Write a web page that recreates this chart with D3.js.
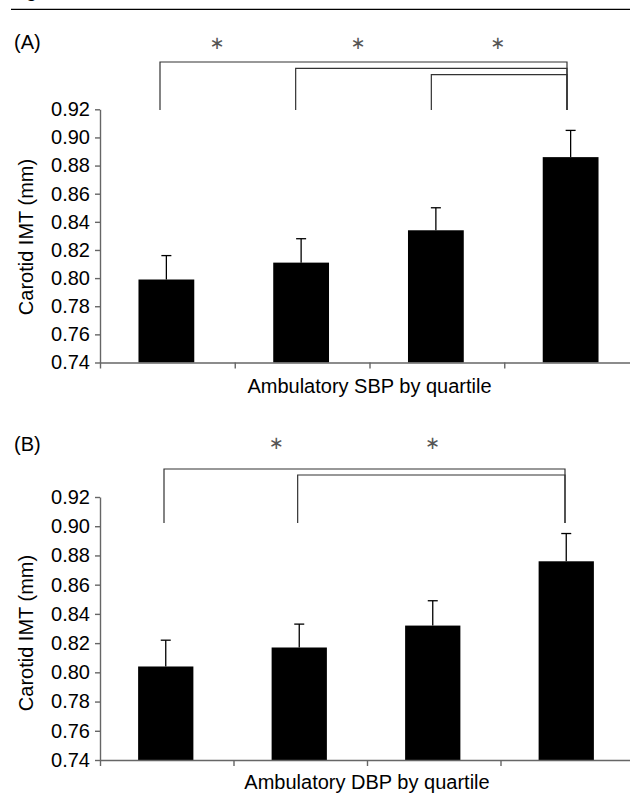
<!DOCTYPE html>
<html>
<head>
<meta charset="utf-8">
<script src="https://cdn.jsdelivr.net/npm/d3@7"></script>
<style>
  body { margin: 0; background: #fff; }
  svg { display: block; font-family: "Liberation Sans", Arial, Helvetica, sans-serif; }
  .axis path, .axis line { stroke: #666; stroke-width: 1.4; }
  .axis text { fill: #000; font-size: 20px; font-family: "Liberation Sans", Arial, sans-serif; }
</style>
</head>
<body>
<div id="chart"></div>
<script>

// quartile categories (shared by both panels)
var quartiles = ["Q1", "Q2", "Q3", "Q4"];
var yTicks = [0.74, 0.76, 0.78, 0.80, 0.82, 0.84, 0.86, 0.88, 0.90, 0.92];

// (A) ambulatory SBP: mean carotid IMT and upper end of error bar
var sbpMeans = [0.799, 0.811, 0.834, 0.886];
var sbpUpper = [0.816, 0.828, 0.850, 0.905];
var sbpPairs = [[0, 3], [1, 3], [2, 3]];
var sbpStars = [0.42, 1.46, 2.49];

// (B) ambulatory DBP
var dbpMeans = [0.804, 0.817, 0.832, 0.876];
var dbpUpper = [0.822, 0.833, 0.849, 0.895];
var dbpPairs = [[0, 3], [1, 3]];
var dbpStars = [0.84, 2.01];

var svg = d3.select("#chart").append("svg")
    .attr("width", 630)
    .attr("height", 793);

// top rule + figure caption running off the top edge
svg.append("text")
    .attr("x", 9).attr("y", -3)
    .style("font-size", "20px")
    .text("Fig. 2");
svg.append("line")
    .attr("x1", 11).attr("x2", 630)
    .attr("y1", 9.3).attr("y2", 9.3)
    .attr("stroke", "#000").attr("stroke-width", 1.3);

/*
 * one bar panel with error bars and significance brackets
 */
function drawPanel(p) {
    var x = d3.scaleLinear().domain([0, 4]).range(p.xRange);
    var bandW = x(1) - x(0);
    var center = function(i) { return x(i + 0.5); };

    var y = d3.scaleLinear().domain([0.74, 0.92]).range(p.yRange);

    // bracket / asterisk positions, slightly left of bar centres
    var ann = d3.scaleLinear().domain([0, 3]).range(p.annRange);

    var g = svg.append("g");

    // bars
    g.selectAll(".bar")
        .data(p.means)
        .enter().append("rect")
        .attr("x", function(d, i) { return center(i) - bandW * 0.207 - 1; })
        .attr("width", bandW * 0.414)
        .attr("y", function(d) { return y(d); })
        .attr("height", function(d) { return y(0.74) - y(d); })
        .attr("fill", "#000");

    // error bars
    var err = g.selectAll(".err")
        .data(p.upper)
        .enter().append("g");
    err.append("line")
        .attr("x1", function(d, i) { return center(i) - 1; })
        .attr("x2", function(d, i) { return center(i) - 1; })
        .attr("y1", function(d, i) { return y(p.means[i]); })
        .attr("y2", function(d) { return y(d); })
        .attr("stroke", "#000").attr("stroke-width", 1.3);
    err.append("line")
        .attr("x1", function(d, i) { return center(i) - 6; })
        .attr("x2", function(d, i) { return center(i) + 4; })
        .attr("y1", function(d) { return y(d); })
        .attr("y2", function(d) { return y(d); })
        .attr("stroke", "#000").attr("stroke-width", 1.3);

    // axes
    g.append("g")
        .attr("class", "axis")
        .attr("transform", "translate(" + p.xRange[0] + ",0)")
        .call(d3.axisLeft(y).tickValues(yTicks).tickSize(5).tickSizeOuter(0).tickPadding(5)
            .tickFormat(d3.format(".2f")));

    g.append("g")
        .attr("class", "axis")
        .attr("transform", "translate(0," + y(0.74) + ")")
        .call(d3.axisBottom(x).tickValues([0, 1, 2, 3, 4]).tickSize(6).tickSizeOuter(0)
            .tickFormat(""));

    // significance brackets
    g.selectAll(".bracket")
        .data(p.pairs)
        .enter().append("path")
        .attr("fill", "none")
        .attr("stroke", "#333")
        .attr("stroke-width", 1.2)
        .attr("d", function(d, i) {
            var top = p.bracketY[i];
            return "M" + ann(d[0]) + "," + p.bracketBottom +
                "V" + top + "H" + ann(d[1]) + "V" + p.bracketBottom;
        });

    g.selectAll(".star")
        .data(p.stars)
        .enter().append("text")
        .attr("x", function(d) { return ann(d); })
        .attr("y", p.starY)
        .attr("text-anchor", "middle")
        .attr("fill", "#555")
        .style("font-family", "'DejaVu Sans', sans-serif")
        .style("font-size", "18px")
        .text("\u2217");

    // labels
    g.append("text")
        .attr("x", 14).attr("y", p.tagY)
        .style("font-size", "20px")
        .text(p.tag);

    g.append("text")
        .attr("x", (p.xRange[0] + p.xRange[1]) / 2)
        .attr("y", p.xLabelY)
        .attr("text-anchor", "middle")
        .style("font-size", "20px")
        .text(p.xLabel);

    g.append("text")
        .attr("transform", "translate(33," + p.yLabelC + ") rotate(-90)")
        .attr("text-anchor", "middle")
        .style("font-size", "20px")
        .text("Carotid IMT (mm)");
}

drawPanel({
    tag: "(A)", tagY: 48.5,
    means: sbpMeans, upper: sbpUpper, pairs: sbpPairs, stars: sbpStars,
    xRange: [100, 639], yRange: [362.5, 109.3],
    annRange: [160, 567],
    bracketY: [62, 68.3, 74.7], bracketBottom: 110, starY: 49,
    xLabel: "Ambulatory SBP by quartile", xLabelY: 392.5, yLabelC: 237
});

drawPanel({
    tag: "(B)", tagY: 451,
    means: dbpMeans, upper: dbpUpper, pairs: dbpPairs, stars: dbpStars,
    xRange: [100, 634], yRange: [760, 497],
    annRange: [164, 565],
    bracketY: [469, 475], bracketBottom: 523, starY: 449,
    xLabel: "Ambulatory DBP by quartile", xLabelY: 789, yLabelC: 633
});

</script>
</body>
</html>
